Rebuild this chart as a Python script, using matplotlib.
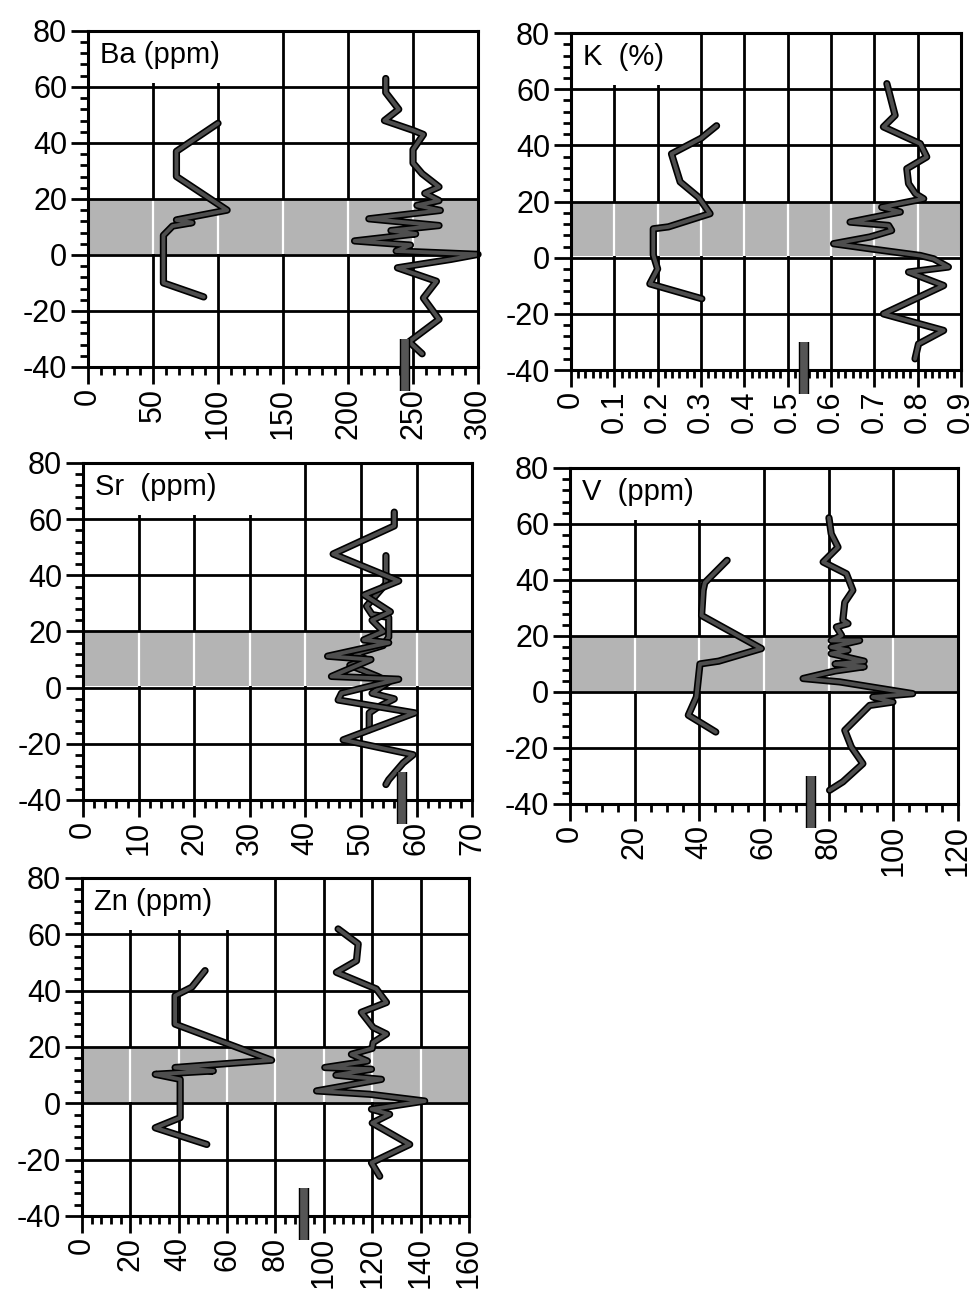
import matplotlib
matplotlib.use("Agg")
import matplotlib.pyplot as plt
import matplotlib.patheffects as pe
from matplotlib.ticker import MultipleLocator

plt.rcParams['font.family'] = ['Liberation Sans', 'DejaVu Sans']
plt.rcParams['axes.unicode_minus'] = False

# ---------------- data ----------------
depth_ticks = [-40, -20, 0, 20, 40, 60, 80]

ba_ticks = [0, 50, 100, 150, 200, 250, 300]
ba_left_val = [100, 68, 68, 107, 68, 80, 65, 58, 58, 89]
ba_left_depth = [47, 37, 28, 16, 12.5, 11.5, 10.3, 7, -10, -15]
ba_right_val = [229, 229, 239, 228, 250, 258, 250, 250, 257, 270, 259, 270, 253, 271, 216,
                270, 233, 252, 205, 248, 237, 300, 279, 238, 268, 258, 270, 247, 257]
ba_right_depth = [63, 58, 52, 48, 44.5, 43, 37.6, 32.8, 29, 24.3, 22, 19.4, 17.7, 15.9, 12.9,
                  10.5, 8.7, 7.5, 5, 3.5, 1.4, 0.2, -1.6, -4.6, -9.4, -15.4, -23, -31, -35.3]
ba_ref = 244

k_ticks = [0, 0.1, 0.2, 0.3, 0.4, 0.5, 0.6, 0.7, 0.8, 0.9]
k_tick_labels = ['0', '0.1', '0.2', '0.3', '0.4', '0.5', '0.6', '0.7', '0.8', '0.9']
k_left_val = [0.336, 0.30, 0.232, 0.252, 0.294, 0.321, 0.225, 0.19, 0.19, 0.20, 0.182, 0.302]
k_left_depth = [47, 42.5, 37, 27, 21.6, 15.7, 11, 10.3, 1, -4, -9.3, -14.6]
k_right_val = [0.729, 0.748, 0.721, 0.806, 0.821, 0.775, 0.779, 0.795, 0.814, 0.717, 0.76,
               0.644, 0.733, 0.74, 0.69, 0.606, 0.69, 0.806, 0.837, 0.871, 0.779, 0.86,
               0.721, 0.86, 0.802, 0.794]
k_right_depth = [62, 50.7, 46.6, 40.6, 35.9, 31.7, 26.4, 22.8, 21, 18, 16.3, 12.7, 11.5, 9.7,
                 7.4, 5, 3.2, 0.8, -0.4, -3.3, -5.1, -9.9, -20, -25.9, -30.7, -36]
k_ref = 0.537

sr_ticks = [0, 10, 20, 30, 40, 50, 60, 70]
sr_left_val = [54.5, 54.5, 51, 52, 55, 55, 54, 49, 51, 48, 53, 55, 52, 56, 53, 51.5, 51.5]
sr_left_depth = [47, 37, 29, 26, 25, 18, 15, 12, 10, 8, 4, 2, -2, -4, -7, -9, -15]
sr_right_val = [56, 56, 45, 56.8, 50.6, 55.3, 52, 54, 50.5, 55, 44, 51.8, 44.7, 56.8, 46.5,
                45.9, 59.7, 46.8, 59.4, 57.6, 55, 54.5]
sr_right_depth = [62.5, 57.6, 47.6, 38, 33, 27, 24, 20, 17, 16, 11.2, 10, 4, 3, -2, -4.4, -9,
                  -18.6, -23.9, -26.8, -32.8, -34.5]
sr_ref = 57.4

v_ticks = [0, 20, 40, 60, 80, 100, 120]
v_left_val = [48.6, 41.7, 41.2, 40.7, 59.2, 46, 40.2, 39.1, 36.6, 45.1]
v_left_depth = [47, 39, 36.3, 27.3, 15.5, 11, 10, -1.8, -8.3, -14.3]
v_right_val = [80.1, 80.8, 82.9, 78.3, 81.4, 85.5, 87.5, 85, 84.4, 86, 82.4, 84, 80.8, 89.6,
               80.8, 86, 80.8, 91, 82, 91, 82, 72.1, 83.4, 106, 93.7, 99.9, 92.7, 85, 87,
               90.6, 84.4, 80.3]
v_right_depth = [62.2, 56.5, 51.7, 46.4, 44.6, 42.2, 36.3, 32, 25.6, 24.4, 23.2, 20.2, 18.4,
                 18.4, 16, 14.9, 13.7, 11, 10, 9, 7.5, 4.8, 3.6, -0.6, -1.8, -3.6, -4.8,
                 -13.7, -19.6, -25.6, -32.1, -35.1]
v_ref = 74.4

zn_ticks = [0, 20, 40, 60, 80, 100, 120, 140, 160]
zn_left_val = [50.9, 45.4, 38.5, 38.5, 78.4, 38.5, 54.3, 30.3, 40.6, 40.6, 30.3, 51.6]
zn_left_depth = [47.1, 41.2, 38.2, 28.1, 15.3, 12.7, 11.5, 10.3, 8.5, -5.1, -8.7, -14.6]
zn_right_val = [105.9, 114.2, 113.5, 105.2, 121.7, 125.9, 115.5, 120.4, 125.9, 120.4, 120,
                111.4, 118, 100.4, 119.7, 105, 123.8, 97, 119, 141.7, 119.7, 127.2, 120,
                135.5, 119.7, 123.1]
zn_right_depth = [61.9, 56.6, 50.6, 46.5, 40.6, 35.8, 32.3, 26.9, 24.6, 21.6, 19.5, 17.4, 15,
                  12.7, 12.1, 10, 8.5, 4.4, 3.2, 0.8, -2.1, -3.9, -7, -14.6, -21.1, -25.9]
zn_ref = 91.7

# ---------------- drawing ----------------
fig = plt.figure(figsize=(9.77, 12.98), dpi=100)

FS = 22
LINE_FX = [pe.Stroke(linewidth=5.2, foreground='black', joinstyle='round',
                     capstyle='round'), pe.Normal()]


def panel(rect, title, ticks, labels, minor, left, right, ref, box_x):
    ax = fig.add_axes(rect)
    xmin, xmax = ticks[0], ticks[-1]
    ax.set_xlim(xmin, xmax)
    ax.set_ylim(-40, 80)
    ax.set_xticks(ticks)
    ax.set_xticklabels(labels if labels else [str(t) for t in ticks], rotation=90,
                       fontsize=FS)
    ax.set_yticks(depth_ticks)
    ax.set_yticklabels([str(t) for t in depth_ticks], fontsize=FS)
    ax.xaxis.set_minor_locator(MultipleLocator(minor))
    ax.yaxis.set_minor_locator(MultipleLocator(4))
    ax.tick_params(which='major', length=12, width=2, direction='out', pad=3)
    ax.tick_params(which='minor', length=5.5, width=2, direction='out')
    for s in ax.spines.values():
        s.set_linewidth(2.2)
        s.set_zorder(6)
    # vertical grid lines (beneath the band)
    for t in ticks[1:-1]:
        ax.axvline(t, color='black', lw=2.0, zorder=1)
    # shaded interval, grid lines show through it as white strips
    ax.axhspan(0.5, 20, facecolor='#b4b4b4', edgecolor='none', zorder=1.5)
    ax.vlines(ticks[1:-1], 0.5, 20, colors='white', lw=1.6, zorder=1.6)
    # horizontal grid lines
    for t in depth_ticks[1:-1]:
        ax.axhline(t, color='black', lw=2.0, zorder=2)
    # label box
    ax.fill_between([xmin, box_x], 61.5, 80, facecolor='white', edgecolor='none', zorder=3)
    ax.text(0.03, 71.5, title, transform=ax.get_yaxis_transform(), fontsize=21,
            va='center', ha='left', zorder=7)
    for vals, deps in [left, right]:
        ax.plot(vals, deps, color='#4e4e4e', lw=2.8, solid_joinstyle='round',
                solid_capstyle='round', path_effects=LINE_FX, zorder=4, clip_on=False)
    ax.plot([ref, ref], [-30, -48.5], color='#555555', lw=5.5, solid_capstyle='butt',
            path_effects=[pe.Stroke(linewidth=7.5, foreground='black'), pe.Normal()],
            zorder=8, clip_on=False)
    return ax


panel([0.0901, 0.7173, 0.3992, 0.2589], 'Ba (ppm)', ba_ticks, None, 10,
      (ba_left_val, ba_left_depth), (ba_right_val, ba_right_depth), ba_ref, 125)
panel([0.5844, 0.7149, 0.3992, 0.2596], 'K  (%)', k_ticks, k_tick_labels, 0.1 / 6,
      (k_left_val, k_left_depth), (k_right_val, k_right_depth), k_ref, 0.25)
panel([0.0850, 0.3837, 0.3982, 0.2596], 'Sr  (ppm)', sr_ticks, None, 2,
      (sr_left_val, sr_left_depth), (sr_right_val, sr_right_depth), sr_ref, 35)
panel([0.5834, 0.3806, 0.3971, 0.2589], 'V  (ppm)', v_ticks, None, 5,
      (v_left_val, v_left_depth), (v_right_val, v_right_depth), v_ref, 50)
panel([0.0839, 0.0632, 0.3961, 0.2604], 'Zn (ppm)', zn_ticks, None, 4,
      (zn_left_val, zn_left_depth), (zn_right_val, zn_right_depth), zn_ref, 70)

fig.savefig('out.png', dpi=100)
